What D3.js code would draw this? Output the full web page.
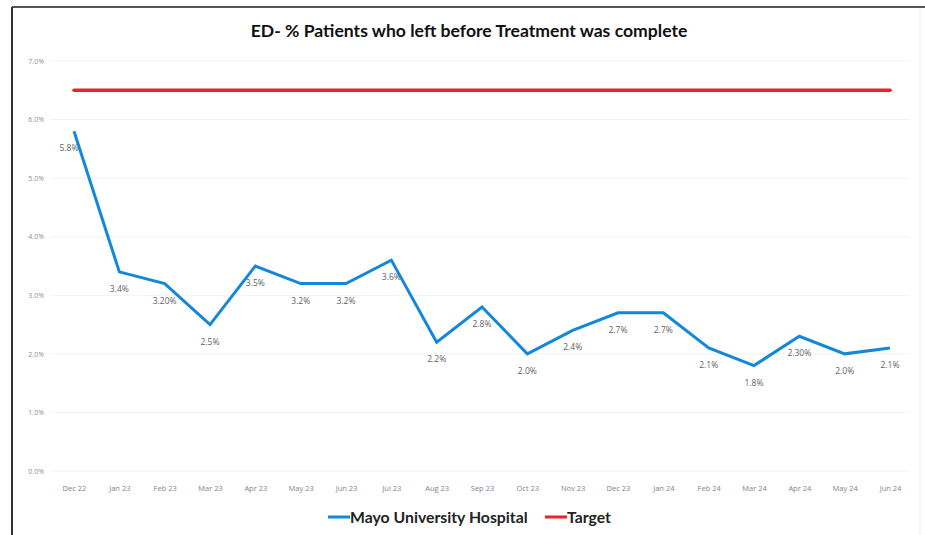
<!DOCTYPE html>
<html>
<head>
<meta charset="utf-8">
<script src="https://cdn.jsdelivr.net/npm/d3@7"></script>
<style>
  body { margin: 0; background: #fff; }
  svg { display: block; }
</style>
</head>
<body>
<script>
var months = ["Dec 22", "Jan 23", "Feb 23", "Mar 23", "Apr 23", "May 23", "Jun 23", "Jul 23", "Aug 23",
    "Sep 23", "Oct 23", "Nov 23", "Dec 23", "Jan 24", "Feb 24", "Mar 24", "Apr 24", "May 24", "Jun 24"];
var mayoValues = [5.8, 3.4, 3.2, 2.5, 3.5, 3.2, 3.2, 3.6, 2.2, 2.8, 2.0, 2.4, 2.7, 2.7, 2.1, 1.8, 2.3, 2.0, 2.1];
var mayoLabels = ["5.8%", "3.4%", "3.20%", "2.5%", "3.5%", "3.2%", "3.2%", "3.6%", "2.2%", "2.8%", "2.0%",
    "2.4%", "2.7%", "2.7%", "2.1%", "1.8%", "2.30%", "2.0%", "2.1%"];
var targetValue = 6.5;
var yTicks = [0, 1, 2, 3, 4, 5, 6, 7];

var width = 925,
    height = 535;

var svg = d3.select("body")
    .append("svg")
    .attr("width", width)
    .attr("height", height);

// frame of the scanned chart
svg.append("line").attr("x1", 12).attr("x2", 925).attr("y1", 7).attr("y2", 7)
    .attr("stroke", "#555").attr("stroke-width", 2);
svg.append("line").attr("x1", 12).attr("x2", 12).attr("y1", 7).attr("y2", 535)
    .attr("stroke", "#333").attr("stroke-width", 2);
svg.append("line").attr("x1", 920).attr("x2", 920).attr("y1", 8).attr("y2", 535)
    .attr("stroke", "#eee").attr("stroke-width", 1);

svg.append("text")
    .attr("x", 469)
    .attr("y", 37)
    .attr("text-anchor", "middle")
    .style("font-family", "Lato, 'Open Sans', sans-serif")
    .style("font-weight", "bold")
    .style("font-size", "17.6px")
    .style("fill", "#111")
    .text("ED- % Patients who left before Treatment was complete");

var x = d3.scalePoint()
    .domain(months)
    .range([74, 890]);

var y = d3.scaleLinear()
    .domain([0, 7])
    .range([471, 61]);

// gridlines
svg.append("g")
    .selectAll("line")
    .data(yTicks)
    .enter().append("line")
    .attr("x1", 50)
    .attr("x2", 910)
    .attr("y1", function(d) { return y(d); })
    .attr("y2", function(d) { return y(d); })
    .attr("stroke", "#f3f3f3")
    .attr("stroke-width", 1);

var yAxis = svg.append("g")
    .attr("transform", "translate(44,0)")
    .call(d3.axisLeft(y).tickValues(yTicks).tickSize(0).tickPadding(0)
        .tickFormat(function(d) { return d.toFixed(1) + "%"; }));
yAxis.select(".domain").remove();
yAxis.selectAll("text")
    .style("font-family", "'Liberation Sans Narrow', 'Open Sans', sans-serif")
    .style("font-size", "7px")
    .style("fill", "#8a8f99");

var xAxis = svg.append("g")
    .attr("transform", "translate(0,482)")
    .call(d3.axisBottom(x).tickSize(0).tickPadding(4));
xAxis.select(".domain").remove();
xAxis.selectAll("text")
    .style("font-family", "'Liberation Sans Narrow', 'Open Sans', sans-serif")
    .style("font-size", "7.5px")
    .style("fill", "#7d8390");

// target line
svg.append("line")
    .attr("x1", x(months[0]))
    .attr("x2", x(months[months.length - 1]))
    .attr("y1", y(targetValue))
    .attr("y2", y(targetValue))
    .attr("stroke", "#e8232f")
    .attr("stroke-width", 3.5)
    .attr("stroke-linecap", "round");

var line = d3.line()
    .x(function(d, i) { return x(months[i]); })
    .y(function(d) { return y(d); });

svg.append("path")
    .datum(mayoValues)
    .attr("d", line)
    .attr("fill", "none")
    .attr("stroke", "#1387d8")
    .attr("stroke-width", 3)
    .attr("stroke-linejoin", "miter");

svg.append("g")
    .selectAll("text")
    .data(mayoValues)
    .enter().append("text")
    .attr("x", function(d, i) { return x(months[i]) + (i == 0 ? -5 : 0); })
    .attr("y", function(d) { return y(d) + 20; })
    .attr("text-anchor", "middle")
    .style("font-family", "'Liberation Sans Narrow', 'Open Sans', sans-serif")
    .style("font-size", "8.5px")
    .style("fill", "#5a5f66")
    .text(function(d, i) { return mayoLabels[i]; });

// legend
var legend = svg.append("g")
    .attr("transform", "translate(0,517)");
var legendItems = [
    { name: "Mayo University Hospital", color: "#1387d8", x: 328 },
    { name: "Target", color: "#e8232f", x: 545 }
];
legendItems.forEach(function(item) {
    legend.append("line")
        .attr("x1", item.x).attr("x2", item.x + 22)
        .attr("y1", 0).attr("y2", 0)
        .attr("stroke", item.color)
        .attr("stroke-width", 3);
    legend.append("text")
        .attr("x", item.x + 22)
        .attr("y", 5.5)
        .style("font-family", "Lato, 'Open Sans', sans-serif")
        .style("font-weight", "bold")
        .style("font-size", "15.8px")
        .style("fill", "#222")
        .text(item.name);
});
</script>
</body>
</html>
